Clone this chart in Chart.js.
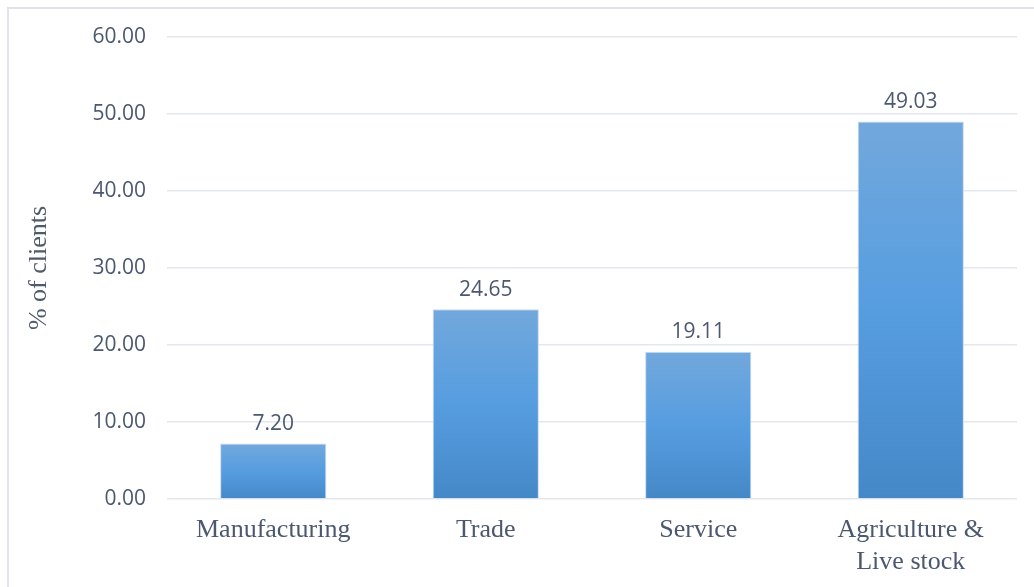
<!DOCTYPE html>
<html>
<head>
<meta charset="utf-8">
<script src="https://cdn.jsdelivr.net/npm/chart.js@4/dist/chart.umd.min.js"></script>
<style>
  html, body { margin: 0; padding: 0; background: #ffffff; }
  #wrap { position: relative; width: 1034px; height: 587px; overflow: hidden; }
  #frame {
    position: absolute; left: 7px; top: 7px; width: 1060px; height: 620px;
    border: 2px solid #e0e4ea; box-sizing: border-box;
  }
  #chart { position: absolute; left: 0; top: 0; }
</style>
</head>
<body>
<div id="wrap">
  <div id="frame"></div>
  <canvas id="chart" width="1034" height="587"></canvas>
</div>
<script>
// sector breakdown of clients
const sectors = ['Manufacturing', 'Trade', 'Service', ['Agriculture &', 'Live stock']];
const clientShare = [7.20, 24.65, 19.11, 49.03];
const yTicks = [0, 10, 20, 30, 40, 50, 60];

const textColor = '#4b5870';

// vertical blue gradient per bar, lighter on top
function barGradient(ctx) {
  const chart = ctx.chart;
  if (!chart.chartArea) return '#5b9bd5';
  const y = chart.scales.y;
  const top = y.getPixelForValue(ctx.raw);
  const base = y.getPixelForValue(0);
  const g = chart.ctx.createLinearGradient(0, top, 0, base);
  g.addColorStop(0, '#72a8dc');
  g.addColorStop(0.5, '#569de0');
  g.addColorStop(1, '#4588c8');
  return g;
}

// value labels above each bar
const valueLabels = {
  id: 'valueLabels',
  afterDatasetsDraw(chart) {
    const c = chart.ctx;
    const meta = chart.getDatasetMeta(0);
    c.save();
    c.font = '21px "Open Sans", sans-serif';
    c.fillStyle = textColor;
    c.textAlign = 'center';
    c.textBaseline = 'bottom';
    meta.data.forEach((bar, i) => {
      c.fillText(clientShare[i].toFixed(2), bar.x, bar.y - 9);
    });
    c.restore();
  }
};

new Chart(document.getElementById('chart'), {
  type: 'bar',
  data: {
    labels: sectors,
    datasets: [{
      data: clientShare,
      backgroundColor: barGradient,
      borderColor: '#c9dcf2',
      borderWidth: 1,
      categoryPercentage: 1,
      barPercentage: 0.5
    }]
  },
  options: {
    responsive: false,
    animation: false,
    layout: { padding: { top: 37, right: 17, bottom: 0, left: 0 } },
    plugins: {
      legend: { display: false },
      tooltip: { enabled: false }
    },
    scales: {
      x: {
        grid: { display: false },
        border: { display: false },
        ticks: {
          color: textColor,
          padding: 8,
          maxRotation: 0,
          autoSkip: false,
          font: { family: '"Liberation Serif", serif', size: 26, lineHeight: 1.2 }
        },
        afterFit(scale) { scale.height = 88; }
      },
      y: {
        min: 0,
        max: 60,
        afterBuildTicks(scale) { scale.ticks = yTicks.map(v => ({ value: v })); },
        grid: { color: '#e3e7ee', lineWidth: 1.5, drawTicks: false },
        border: { display: false },
        ticks: {
          color: textColor,
          padding: 21,
          font: { family: '"Open Sans", sans-serif', size: 21 },
          callback: v => Number(v).toFixed(2)
        },
        title: {
          display: true,
          text: '% of clients',
          color: '#4f5a6b',
          padding: { top: 24, bottom: 0 },
          font: { family: '"Liberation Serif", serif', size: 26 }
        },
        afterFit(scale) { scale.width = 167; }
      }
    }
  },
  plugins: [valueLabels]
});
</script>
</body>
</html>
